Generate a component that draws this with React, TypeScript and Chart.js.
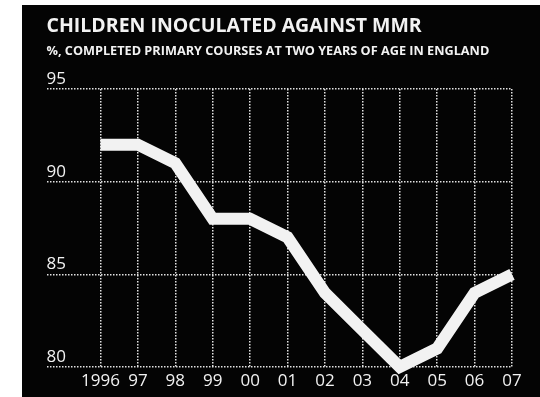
import React, { useEffect, useRef } from "react";
import { Chart, registerables } from "chart.js";

Chart.register(...registerables);

const titleText = "CHILDREN INOCULATED AGAINST MMR";
const subtitleText = "%, COMPLETED PRIMARY COURSES AT TWO YEARS OF AGE IN ENGLAND";
const years = [1996, 1997, 1998, 1999, 2000, 2001, 2002, 2003, 2004, 2005, 2006, 2007];
const yearLabels = ["1996", "97", "98", "99", "00", "01", "02", "03", "04", "05", "06", "07"];
const coverage = [92, 92, 91, 88, 88, 87, 84, 82, 80, 81, 84, 85];
const yTicks = [80, 85, 90, 95];

const FONT = "'Open Sans', 'DejaVu Sans', sans-serif";
const INK = "#f2f2f2";
const GRID = "#e2e2e2";

export default function App() {
  const ref = useRef<HTMLCanvasElement | null>(null);

  useEffect(() => {
    document.body.style.margin = "0";
    const canvas = ref.current;
    if (!canvas) return;
    const chart = new Chart(canvas, {
      type: "line",
      data: {
        datasets: [
          {
            data: years.map((x, i) => ({ x, y: coverage[i] })),
            borderColor: INK,
            borderWidth: 12,
            borderJoinStyle: "miter",
            borderCapStyle: "butt",
            pointRadius: 0,
            tension: 0,
            fill: false,
            clip: false as any,
          },
        ],
      },
      options: {
        animation: false,
        responsive: false,
        devicePixelRatio: 1,
        layout: { padding: { left: 24.5, right: 28, top: 0, bottom: 1 } },
        plugins: {
          legend: { display: false },
          tooltip: { enabled: false },
          title: {
            display: true,
            text: titleText,
            align: "start",
            color: INK,
            font: { family: FONT, size: 19.5, weight: "bold", lineHeight: 1.2 },
            padding: { top: 9.7, bottom: 0 },
          },
          subtitle: {
            display: true,
            text: subtitleText,
            align: "start",
            color: INK,
            font: { family: FONT, size: 12.7, weight: "bold", lineHeight: 1.2 },
            padding: { top: 5.4, bottom: 30.3 },
          },
        },
        scales: {
          x: {
            type: "linear",
            min: 1994.557,
            max: 2007,
            afterBuildTicks: (axis: any) => {
              axis.ticks = years.map((v) => ({ value: v }));
            },
            ticks: {
              color: INK,
              font: { family: FONT, size: 17, lineHeight: 1 },
              padding: 6,
              maxRotation: 0,
              autoSkip: false,
              callback: (v: any) => {
                const i = years.indexOf(Number(v));
                return i >= 0 ? yearLabels[i] : "";
              },
            },
            grid: { color: GRID, lineWidth: 1.5, drawTicks: false },
            border: { display: false, dash: [1.5, 1.5] },
          },
          y: {
            type: "linear",
            min: 80,
            max: 95,
            afterBuildTicks: (axis: any) => {
              axis.ticks = yTicks.map((v) => ({ value: v }));
            },
            ticks: {
              color: INK,
              font: { family: FONT, size: 17, lineHeight: 1 },
              mirror: true,
              padding: 0,
              labelOffset: -10,
            },
            grid: { color: GRID, lineWidth: 1.5, drawTicks: false },
            border: { display: false, dash: [1.5, 1.5] },
          },
        },
      },
    });
    return () => chart.destroy();
  }, []);

  return (
    <div style={{ position: "relative", width: 540, height: 397, background: "#fff", overflow: "hidden" }}>
      <div style={{ position: "absolute", left: 22, top: 5, width: 518, height: 392, background: "#040404" }}>
        <canvas ref={ref} width={518} height={392} style={{ display: "block", width: 518, height: 392 }} />
      </div>
    </div>
  );
}
